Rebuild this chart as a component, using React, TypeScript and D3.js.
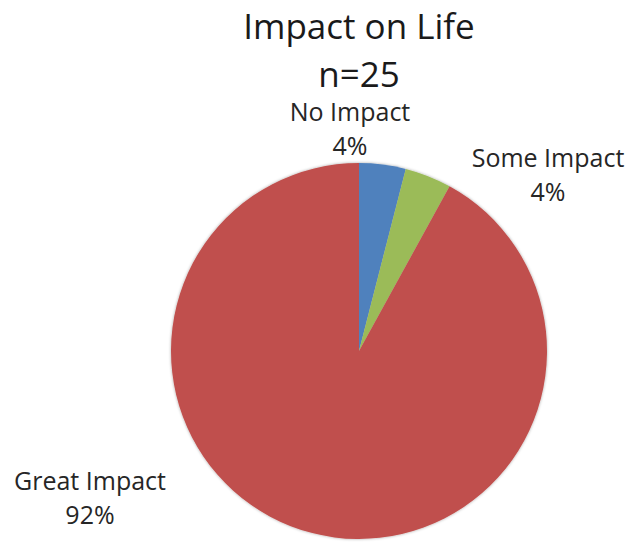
import React from 'react';
import * as d3 from 'd3';

const categories = ['No Impact', 'Some Impact', 'Great Impact'];
const percents = [4, 4, 92];
const colors = ['#4F81BD', '#9BBB59', '#C0504D'];
const titleLines = ['Impact on Life', 'n=25'];

// where each label sits, relative to the pie centre (dragged by hand in the original)
const labelOffsets: [number, number][] = [
  [-9, -214],
  [189, -168],
  [-269, 155],
];

interface Slice {
  category: string;
  value: number;
  color: string;
}

const width = 631;
const height = 544;
const cx = 359;
const cy = 351;
const radius = 188;
const font = '"Open Sans", Lato, sans-serif';

const App: React.FC = () => {
  const data: Slice[] = categories.map((c, i) => ({
    category: c,
    value: percents[i],
    color: colors[i],
  }));

  const pie = d3
    .pie<Slice>()
    .value((d) => d.value)
    .sort(null);
  const arc = d3.arc<d3.PieArcDatum<Slice>>().innerRadius(0).outerRadius(radius);
  const arcs = pie(data);

  return (
    <svg
      width={width}
      height={height}
      style={{ position: 'absolute', left: 0, top: 0, background: '#fff' }}
    >
      <defs>
        <filter id="soft" x="-10%" y="-10%" width="120%" height="120%">
          <feDropShadow dx="0" dy="0" stdDeviation="1.5" floodColor="#000" floodOpacity="0.35" />
        </filter>
      </defs>
      {titleLines.map((t, i) => (
        <text
          key={t}
          x={cx}
          y={39 + i * 48}
          textAnchor="middle"
          fontFamily={font}
          fontSize={35}
          fill="#1a1a1a"
        >
          {t}
        </text>
      ))}
      <g transform={`translate(${cx},${cy})`} filter="url(#soft)">
        {arcs.map((a) => (
          <path key={a.data.category} d={arc(a) as string} fill={a.data.color} />
        ))}
      </g>
      {arcs.map((a, i) => {
        const [ox, oy] = labelOffsets[i];
        const x = cx + ox;
        const y = cy + oy;
        return (
          <g key={a.data.category} fontFamily={font} fontSize={25} fill="#262626">
            <text x={x} y={y - 16} textAnchor="middle">
              {a.data.category}
            </text>
            <text x={x} y={y + 18} textAnchor="middle">
              {`${a.data.value}%`}
            </text>
          </g>
        );
      })}
    </svg>
  );
};

export default App;
